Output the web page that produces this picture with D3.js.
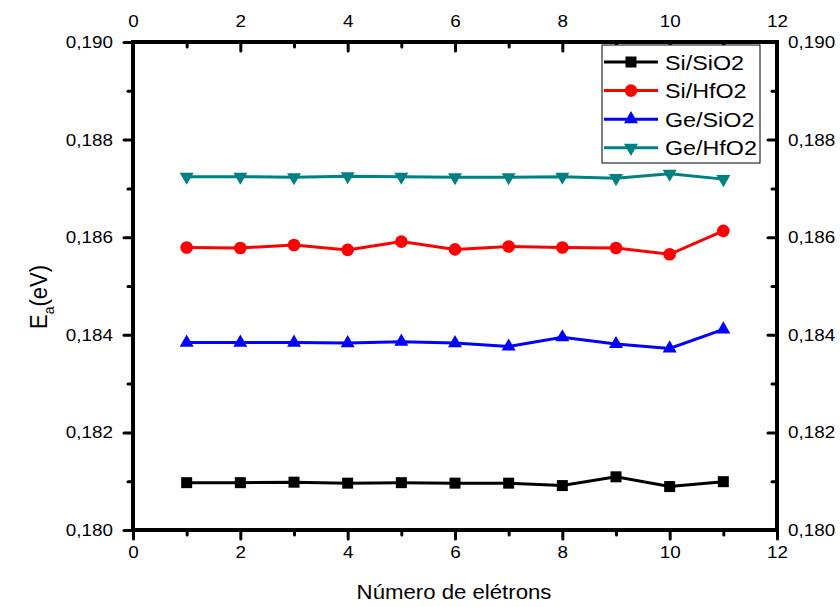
<!DOCTYPE html>
<html>
<head>
    <meta charset="utf-8">
    <script src="https://cdn.jsdelivr.net/npm/d3@7"></script>
    <style>
        body { margin: 0; background: #fff; }
        text { font-family: "Liberation Sans", Arial, sans-serif; fill: #000; }
        .axis .domain { stroke: none; }
        .axis line { stroke: #000; stroke-width: 3; stroke-linecap: round; }
        .axis text { font-size: 17px; }
    </style>
</head>
<body>
<svg id="chart" width="840" height="607"></svg>
<script>
    // Data
    const electrons = [1, 2, 3, 4, 5, 6, 7, 8, 9, 10, 11];
    const siSiO2 = [0.18097, 0.18097, 0.18098, 0.18096, 0.18097, 0.18096, 0.18096, 0.18091, 0.18109, 0.18089, 0.18099];
    const siHfO2 = [0.18579, 0.18578, 0.18584, 0.18574, 0.18591, 0.18575, 0.18581, 0.18579, 0.18578, 0.18565, 0.18613];
    const geSiO2 = [0.18384, 0.18384, 0.18384, 0.18383, 0.18386, 0.18383, 0.18376, 0.18395, 0.18381, 0.18372, 0.18411];
    const geHfO2 = [0.18724, 0.18724, 0.18723, 0.18725, 0.18724, 0.18723, 0.18723, 0.18724, 0.18721, 0.18730, 0.18719];
    const seriesNames = ["Si/SiO2", "Si/HfO2", "Ge/SiO2", "Ge/HfO2"];
    const seriesColors = ["#000000", "#ff0000", "#0000ff", "#008080"];
    const xTicks = [0, 2, 4, 6, 8, 10, 12];
    const xMinor = [1, 3, 5, 7, 9, 11];
    const yTicks = [0.180, 0.182, 0.184, 0.186, 0.188, 0.190];
    const yMinor = [0.181, 0.183, 0.185, 0.187, 0.189];

    const margin = { top: 42, right: 63, bottom: 77, left: 133 };
    const svg = d3.select("#chart");
    const width = +svg.attr("width");
    const height = +svg.attr("height");
    const chartWidth = width - margin.left - margin.right;
    const chartHeight = height - margin.top - margin.bottom;
    const stretch = 1.11; // the original text is a bit wider than Arial

    const xScale = d3.scaleLinear().domain([0, 12]).range([0, chartWidth]);
    const yScale = d3.scaleLinear().domain([0.180, 0.190]).range([chartHeight, 0]);
    const fmtY = d => d3.format(".3f")(d).replace(".", ",");

    // widen tick labels without moving their anchor
    const widen = sel => sel.selectAll("text").each(function () {
        const t = d3.select(this);
        t.attr("x", (+t.attr("x") || 0) / stretch).attr("transform", `scale(${stretch},1)`);
    });

    const g = svg.append("g").attr("transform", `translate(${margin.left}, ${margin.top})`);

    // minor ticks first, then major ticks with labels
    g.append("g").attr("class", "axis").attr("transform", `translate(0, ${chartHeight})`)
        .call(d3.axisBottom(xScale).tickValues(xMinor).tickSize(5).tickFormat(""));
    g.append("g").attr("class", "axis").attr("transform", `translate(0, ${chartHeight})`)
        .call(d3.axisBottom(xScale).tickValues(xTicks).tickSize(9).tickPadding(7)).call(widen);

    g.append("g").attr("class", "axis")
        .call(d3.axisTop(xScale).tickValues(xMinor).tickSize(-5).tickFormat(""));
    g.append("g").attr("class", "axis")
        .call(d3.axisTop(xScale).tickValues(xTicks).tickSize(-9).tickPadding(15)).call(widen);

    g.append("g").attr("class", "axis")
        .call(d3.axisLeft(yScale).tickValues(yMinor).tickSize(5).tickFormat(""));
    g.append("g").attr("class", "axis")
        .call(d3.axisLeft(yScale).tickValues(yTicks).tickSize(9).tickPadding(11).tickFormat(fmtY)).call(widen);

    g.append("g").attr("class", "axis").attr("transform", `translate(${chartWidth}, 0)`)
        .call(d3.axisRight(yScale).tickValues(yMinor).tickSize(-5).tickFormat(""));
    g.append("g").attr("class", "axis").attr("transform", `translate(${chartWidth}, 0)`)
        .call(d3.axisRight(yScale).tickValues(yTicks).tickSize(-9).tickPadding(11).tickFormat(fmtY)).call(widen);

    // frame
    g.append("rect").attr("x", 0).attr("y", 0).attr("width", chartWidth).attr("height", chartHeight)
        .attr("fill", "none").attr("stroke", "#000").attr("stroke-width", 4);

    // axis titles
    svg.append("text")
        .attr("transform", `translate(${margin.left + chartWidth / 2 - 1}, 599) scale(${stretch},1)`)
        .attr("text-anchor", "middle").style("font-size", "20px").text("Número de elétrons");
    const yTitle = svg.append("text").attr("transform", `translate(47, 297) rotate(-90) scale(1,${stretch})`)
        .attr("text-anchor", "middle").style("font-size", "22px");
    yTitle.append("tspan").text("E");
    yTitle.append("tspan").attr("dy", 6).style("font-size", "14px").text("a");
    yTitle.append("tspan").attr("dy", -6).text("(eV)");

    // series
    const allSeries = [siSiO2, siHfO2, geSiO2, geHfO2];
    const symbols = [
        d3.symbol().type(d3.symbolSquare).size(121),
        d3.symbol().type(d3.symbolCircle).size(125),
        d3.symbol().type(d3.symbolTriangle).size(85),
        d3.symbol().type(d3.symbolTriangle).size(85)
    ];
    const rotations = [0, 0, 0, 180];

    const lineGenerator = d3.line()
        .x((d, i) => xScale(electrons[i]))
        .y(d => yScale(d));

    allSeries.forEach((values, s) => {
        g.append("path").attr("d", lineGenerator(values))
            .attr("fill", "none").attr("stroke", seriesColors[s]).attr("stroke-width", 3);
        g.selectAll(".pt" + s).data(values).join("path")
            .attr("class", "pt" + s)
            .attr("d", symbols[s]())
            .attr("transform", (d, i) => `translate(${xScale(electrons[i])}, ${yScale(d)}) rotate(${rotations[s]})`)
            .attr("fill", seriesColors[s]);
    });

    // legend
    const legend = svg.append("g").attr("transform", "translate(602, 45)");
    legend.append("rect").attr("width", 158).attr("height", 118)
        .attr("fill", "#fff").attr("stroke", "#000").attr("stroke-width", 1);
    const items = legend.selectAll(".legend-item").data(seriesNames).join("g")
        .attr("class", "legend-item")
        .attr("transform", (d, i) => `translate(0, ${17 + i * 28.6})`);
    items.append("line").attr("x1", 2).attr("x2", 56)
        .attr("stroke", (d, i) => seriesColors[i]).attr("stroke-width", 3);
    items.append("path")
        .attr("d", (d, i) => symbols[i]())
        .attr("transform", (d, i) => `translate(29, 0) rotate(${rotations[i]})`)
        .attr("fill", (d, i) => seriesColors[i]);
    items.append("text").attr("transform", `translate(63, 0) scale(${stretch},1)`).attr("dy", "0.36em")
        .style("font-size", "21px").text(d => d);
</script>
</body>
</html>
